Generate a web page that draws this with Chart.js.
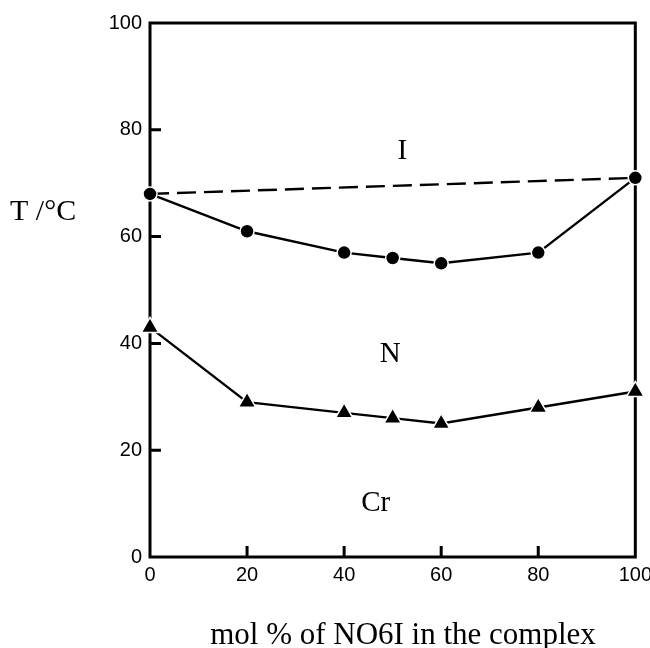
<!DOCTYPE html>
<html>
<head>
<meta charset="utf-8">
<title>Phase diagram</title>
<script src="https://cdn.jsdelivr.net/npm/chart.js@4.4.1/dist/chart.umd.min.js"></script>
<style>
  html, body { margin: 0; padding: 0; background: #fff; }
  canvas { display: block; }
</style>
</head>
<body>
<canvas id="phaseChart" width="650" height="648"></canvas>
<script>
// composition (mol % of NO6I) and transition temperatures
const molPercent = [0, 20, 40, 50, 60, 80, 100];
const clearingTemp = [68, 61, 57, 56, 55, 57, 71];   // N -> I
const meltingTemp = [43, 29, 27, 26, 25, 28, 31];    // Cr -> N
const idealMol = [0, 100];
const idealTemp = [68, 71];                           // ideal mixing line
const xTickValues = [0, 20, 40, 60, 80, 100];
const yTickValues = [0, 20, 40, 60, 80, 100];

const toPoints = (xs, ys) => xs.map((x, i) => ({ x: x, y: ys[i] }));

const serif = '"Liberation Serif", "Times New Roman", serif';
const sans = '"Liberation Sans", Arial, sans-serif';

// frame, inward ticks, region labels and axis titles
const framePlugin = {
  id: "frame",
  beforeDatasetsDraw(chart) {
    const { ctx, chartArea: a, scales } = chart;
    ctx.save();
    ctx.strokeStyle = "#000";
    ctx.lineWidth = 3;
    ctx.strokeRect(a.left, a.top, a.right - a.left, a.bottom - a.top);

    ctx.beginPath();
    xTickValues.forEach(v => {
      if (v === scales.x.min || v === scales.x.max) return;
      const px = scales.x.getPixelForValue(v);
      ctx.moveTo(px, a.bottom);
      ctx.lineTo(px, a.bottom - 11);
    });
    yTickValues.forEach(v => {
      if (v === scales.y.min || v === scales.y.max) return;
      const py = scales.y.getPixelForValue(v);
      ctx.moveTo(a.left, py);
      ctx.lineTo(a.left + 11, py);
    });
    ctx.stroke();
    ctx.restore();
  },
  afterDraw(chart) {
    const { ctx, scales } = chart;
    ctx.save();
    ctx.fillStyle = "#000";
    ctx.textAlign = "center";
    ctx.textBaseline = "middle";
    ctx.font = "29px " + serif;
    [["I", 52, 76], ["N", 49.5, 38], ["Cr", 46.5, 10]].forEach(([t, x, y]) => {
      ctx.fillText(t, scales.x.getPixelForValue(x), scales.y.getPixelForValue(y));
    });

    ctx.font = "31px " + serif;
    ctx.textBaseline = "alphabetic";
    ctx.fillText("mol % of NO6I in the complex", 403, 644);

    ctx.textAlign = "left";
    ctx.font = "30px " + serif;
    ctx.fillText("T /°C", 10, 220);
    ctx.restore();
  }
};

new Chart(document.getElementById("phaseChart"), {
  type: "line",
  data: {
    datasets: [
      {
        label: "clearing",
        data: toPoints(molPercent, clearingTemp),
        borderColor: "#000",
        borderWidth: 2.4,
        clip: false,
        pointStyle: "circle",
        pointRadius: 7,
        pointBackgroundColor: "#000",
        pointBorderColor: "#fff",
        pointBorderWidth: 1.5
      },
      {
        label: "melting",
        data: toPoints(molPercent, meltingTemp),
        borderColor: "#000",
        borderWidth: 2.4,
        clip: false,
        pointStyle: "triangle",
        pointRadius: 10,
        pointBackgroundColor: "#000",
        pointBorderColor: "#fff",
        pointBorderWidth: 1.5
      },
      {
        label: "ideal",
        data: toPoints(idealMol, idealTemp),
        borderColor: "#000",
        borderWidth: 2.4,
        borderDash: [19, 8],
        pointRadius: 0
      }
    ]
  },
  options: {
    responsive: false,
    animation: false,
    layout: { padding: { top: 23, right: 14, left: 0, bottom: 0 } },
    plugins: {
      legend: { display: false },
      tooltip: { enabled: false }
    },
    scales: {
      x: {
        type: "linear",
        min: 0,
        max: 100,
        grid: { display: false },
        border: { display: false },
        afterBuildTicks: s => { s.ticks = xTickValues.map(v => ({ value: v })); },
        afterFit: s => { s.height = 91; },
        ticks: {
          color: "#000",
          padding: -2,
          maxRotation: 0,
          font: { family: sans, size: 20 }
        }
      },
      y: {
        min: 0,
        max: 100,
        grid: { display: false },
        border: { display: false },
        afterBuildTicks: s => { s.ticks = yTickValues.map(v => ({ value: v })); },
        afterFit: s => { s.width = 150; },
        ticks: {
          color: "#000",
          padding: 0,
          font: { family: sans, size: 20 }
        }
      }
    }
  },
  plugins: [framePlugin]
});
</script>
</body>
</html>
